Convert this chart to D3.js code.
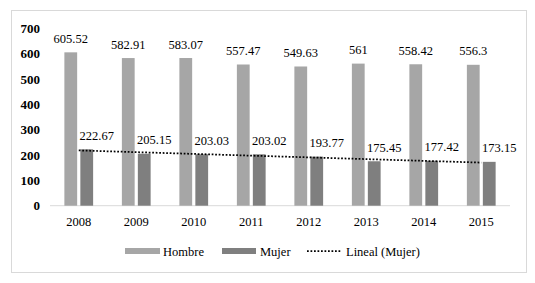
<!DOCTYPE html>
<html>
<head>
<meta charset="utf-8">
<script src="https://cdn.jsdelivr.net/npm/d3@7"></script>
<style>
html,body{margin:0;padding:0;background:#fff;}
</style>
</head>
<body>
<svg id="chart" width="535" height="283"></svg>
<script>
const years = ["2008","2009","2010","2011","2012","2013","2014","2015"];
const hombre = [605.52, 582.91, 583.07, 557.47, 549.63, 561, 558.42, 556.3];
const mujer = [222.67, 205.15, 203.03, 203.02, 193.77, 175.45, 177.42, 173.15];
const hombreLabels = ["605.52","582.91","583.07","557.47","549.63","561","558.42","556.3"];
const mujerLabels = ["222.67","205.15","203.03","203.02","193.77","175.45","177.42","173.15"];
const seriesNames = ["Hombre","Mujer"];
const yTicks = [0,100,200,300,400,500,600,700];

const FONT = "'Liberation Serif', 'Times New Roman', Times, serif";
const colors = {Hombre:"#a6a6a6", Mujer:"#7f7f7f"};
const svg = d3.select("#chart").attr("font-family", FONT);

// outer border
svg.append("rect").attr("x",11.5).attr("y",10.5).attr("width",515).attr("height",262)
  .attr("fill","#fff").attr("stroke","#d9d9d9").attr("stroke-width",1);

const y = d3.scaleLinear().domain([0,700]).range([205.7, 28.4]);
const x0 = d3.scaleBand().domain(years).range([50,510]).paddingInner(0.5).paddingOuter(0.25);
const x1 = d3.scaleBand().domain(seriesNames).range([0, x0.bandwidth()]).paddingInner(0.2);

// y tick labels
svg.append("g").selectAll("text").data(yTicks).join("text")
  .attr("x",40).attr("y",d=>y(d)).attr("dy","0.35em")
  .attr("text-anchor","end").attr("font-size",13).attr("font-weight","bold")
  .attr("font-family",FONT)
  .text(d=>d);

// axis line
svg.append("line").attr("x1",50).attr("x2",510).attr("y1",y(0)).attr("y2",y(0))
  .attr("stroke","#d9d9d9").attr("stroke-width",1);

// x labels
svg.append("g").selectAll("text").data(years).join("text")
  .attr("x",d=>x0(d)+x0.bandwidth()/2).attr("y",226)
  .attr("text-anchor","middle").attr("font-size",12.5).attr("font-family",FONT).text(d=>d);

const data = [{name:"Hombre", vals:hombre, labels:hombreLabels, dx:0},
              {name:"Mujer", vals:mujer, labels:mujerLabels, dx:10}];

data.forEach(s=>{
  const g = svg.append("g");
  g.selectAll("rect").data(s.vals).join("rect")
    .attr("x",(d,i)=>x0(years[i])+x1(s.name))
    .attr("width",x1.bandwidth())
    .attr("y",d=>y(d))
    .attr("height",d=>y(0)-y(d))
    .attr("fill",colors[s.name]);
});

// linear trendline for Mujer (least squares)
const n = mujer.length;
const mx = d3.mean(mujer.map((d,i)=>i));
const my = d3.mean(mujer);
const slope = d3.sum(mujer.map((d,i)=>(i-mx)*(d-my))) / d3.sum(mujer.map((d,i)=>(i-mx)*(i-mx)));
const icpt = my - slope*mx;
const cx = i => x0(years[i]) + x0.bandwidth()/2;
svg.append("line")
  .attr("x1",cx(0)).attr("y1",y(icpt))
  .attr("x2",cx(n-1)).attr("y2",y(icpt+slope*(n-1)))
  .attr("stroke","#000").attr("stroke-width",1.75).attr("stroke-dasharray","1.75 1.75");

// value labels
data.forEach(s=>{
  svg.append("g").selectAll("text").data(s.vals).join("text")
    .attr("x",(d,i)=>x0(years[i])+x1(s.name)+x1.bandwidth()/2+s.dx)
    .attr("y",d=>y(d)-9.5)
    .attr("text-anchor","middle").attr("font-size",12.5).attr("font-family",FONT)
    .text((d,i)=>s.labels[i]);
});

// legend
const leg = svg.append("g").attr("font-family",FONT);
leg.append("rect").attr("x",125).attr("y",248).attr("width",35).attr("height",6).attr("fill",colors.Hombre);
leg.append("text").attr("x",163).attr("y",256).attr("font-size",12.5).text("Hombre");
leg.append("rect").attr("x",222).attr("y",248).attr("width",34).attr("height",6).attr("fill",colors.Mujer);
leg.append("text").attr("x",260).attr("y",256).attr("font-size",12.5).text("Mujer");
leg.append("line").attr("x1",307).attr("x2",342).attr("y1",251).attr("y2",251)
  .attr("stroke","#000").attr("stroke-width",1.75).attr("stroke-dasharray","1.75 1.75");
leg.append("text").attr("x",346).attr("y",256).attr("font-size",12.5).text("Lineal (Mujer)");
</script>
</body>
</html>
